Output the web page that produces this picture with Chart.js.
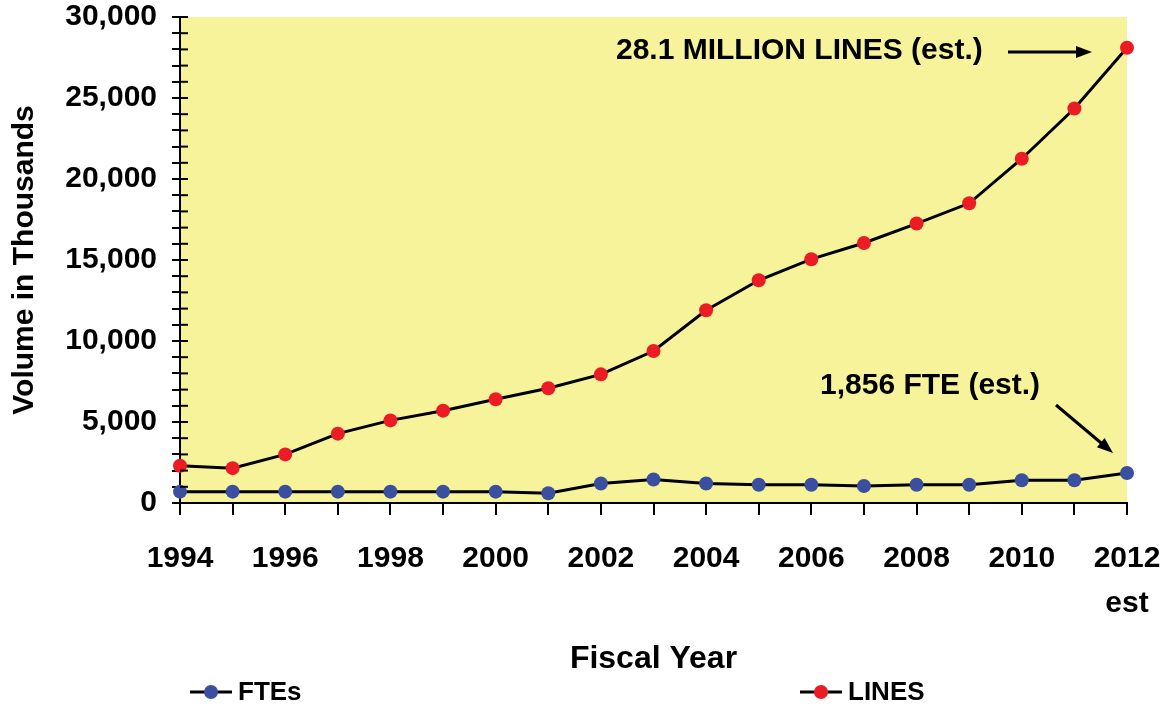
<!DOCTYPE html>
<html lang="en">
<head>
    <meta charset="UTF-8">
    <title>Volume in Thousands</title>
    <script src="https://cdn.jsdelivr.net/npm/chart.js"></script>
    <style>
        body { margin: 0; background: #fff; }
    </style>
</head>
<body>
    <div style="width: 1170px; height: 706px;">
        <canvas id="myChart"></canvas>
    </div>
<script>
    // data
    var v_years = ['1994','1995','1996','1997','1998','1999','2000','2001','2002','2003',
                   '2004','2005','2006','2007','2008','2009','2010','2011','2012'];
    var v_ftes  = [700, 700, 700, 700, 700, 700, 700, 600, 1200, 1450,
                   1200, 1130, 1130, 1050, 1130, 1130, 1400, 1400, 1856];
    var v_lines = [2300, 2150, 3000, 4280, 5100, 5700, 6400, 7080, 7940, 9380,
                   11900, 13750, 15050, 16050, 17250, 18500, 21250, 24350, 28100];
    var v_yMax = 30000;
    var v_yStep = 1000;
    var v_yLabelStep = 5000;

    var v_font = "'Liberation Sans', Arial, sans-serif";
    Chart.defaults.font.family = v_font;
    Chart.defaults.font.weight = 'bold';
    Chart.defaults.color = '#000';

    // yellow plot background + tick marks on the inner side of the y axis
    const bgPlugin = {
        id: 'bgPlugin',
        beforeDraw(chart) {
            const a = chart.chartArea, c = chart.ctx;
            c.save();
            c.fillStyle = '#F7F39B';
            c.fillRect(a.left, a.top, a.right - a.left, a.bottom - a.top);
            c.restore();
        },
        afterDraw(chart) {
            const c = chart.ctx, y = chart.scales.y, a = chart.chartArea;
            c.save();
            c.strokeStyle = '#000';
            c.lineWidth = 2;
            y.ticks.forEach(function(t) {
                var py = y.getPixelForValue(t.value);
                c.beginPath();
                c.moveTo(a.left, py);
                c.lineTo(a.left + 8, py);
                c.stroke();
            });
            c.restore();
        }
    };

    function f_arrow(c, x1, y1, x2, y2) {
        var ang = Math.atan2(y2 - y1, x2 - x1);
        c.beginPath();
        c.moveTo(x1, y1);
        c.lineTo(x2 - 12 * Math.cos(ang), y2 - 12 * Math.sin(ang));
        c.stroke();
        c.beginPath();
        c.moveTo(x2, y2);
        c.lineTo(x2 - 16 * Math.cos(ang) + 6 * Math.sin(ang), y2 - 16 * Math.sin(ang) - 6 * Math.cos(ang));
        c.lineTo(x2 - 16 * Math.cos(ang) - 6 * Math.sin(ang), y2 - 16 * Math.sin(ang) + 6 * Math.cos(ang));
        c.closePath();
        c.fill();
    }

    // callouts and the legend under the axis title
    const notePlugin = {
        id: 'notePlugin',
        afterDraw(chart) {
            const c = chart.ctx;
            c.save();
            c.fillStyle = '#000';
            c.strokeStyle = '#000';
            c.lineWidth = 3;
            c.font = 'bold 30px ' + v_font;
            c.textBaseline = 'middle';
            c.textAlign = 'left';
            c.fillText('28.1 MILLION LINES (est.)', 616, 51);
            f_arrow(c, 1008, 52, 1092, 52);
            c.fillText('1,856 FTE (est.)', 820, 386);
            f_arrow(c, 1056, 405, 1113, 453);

            // legend
            c.font = 'bold 26px ' + v_font;
            var v_items = [[190, 0], [800, 1]];
            v_items.forEach(function(it) {
                var ds = chart.data.datasets[it[1]];
                var x = it[0], yy = 692;
                c.strokeStyle = '#000';
                c.lineWidth = 3;
                c.beginPath();
                c.moveTo(x, yy);
                c.lineTo(x + 42, yy);
                c.stroke();
                c.fillStyle = ds.pointBackgroundColor;
                c.beginPath();
                c.arc(x + 21, yy, 7, 0, Math.PI * 2);
                c.fill();
                c.fillStyle = '#000';
                c.fillText(ds.label, x + 48, yy + 1);
            });
            c.restore();
        }
    };

    const ctx = document.getElementById('myChart').getContext('2d');
    const myChart = new Chart(ctx, {
        type: 'line',
        data: {
            labels: v_years,
            datasets: [{
                    label: 'FTEs',
                    data: v_ftes,
                    borderColor: '#000',
                    borderWidth: 3,
                    pointBackgroundColor: '#3A4FA0',
                    pointBorderColor: '#3A4FA0',
                    pointBorderWidth: 0,
                    pointRadius: 7,
                    tension: 0,
                    clip: false
                },
                {
                    label: 'LINES',
                    data: v_lines,
                    borderColor: '#000',
                    borderWidth: 3,
                    pointBackgroundColor: '#EC1C24',
                    pointBorderColor: '#EC1C24',
                    pointBorderWidth: 0,
                    pointRadius: 7,
                    tension: 0,
                    clip: false
                }
            ]
        },
        options: {
            responsive: true,
            maintainAspectRatio: false,
            animation: false,
            layout: { padding: { left: 0, right: 43, top: 17, bottom: 0 } },
            plugins: {
                legend: { display: false },
                tooltip: { enabled: false }
            },
            scales: {
                x: {
                    offset: false,
                    afterFit: function(s) {
                        s.height = 203;
                        s.paddingLeft = 0;
                        s.paddingRight = 0;
                    },
                    border: { display: true, color: '#000', width: 2 },
                    grid: { drawOnChartArea: false, color: '#000', lineWidth: 2, tickLength: 12 },
                    ticks: {
                        autoSkip: false,
                        maxRotation: 0,
                        padding: 21,
                        font: { size: 30, weight: 'bold', lineHeight: 1.5 },
                        callback: function(val, idx) {
                            if (idx % 2 != 0) return '';
                            if (idx == v_years.length - 1) return [v_years[idx], 'est'];
                            return v_years[idx];
                        }
                    },
                    title: {
                        display: true,
                        text: 'Fiscal Year',
                        font: { size: 32, weight: 'bold', lineHeight: 1.2 },
                        padding: { top: 0, bottom: 28 }
                    }
                },
                y: {
                    min: 0,
                    max: v_yMax,
                    afterFit: function(s) {
                        s.width = 180;
                        s.paddingTop = 0;
                        s.paddingBottom = 0;
                    },
                    border: { display: true, color: '#000', width: 2 },
                    grid: { drawOnChartArea: false, color: '#000', lineWidth: 2, tickLength: 8 },
                    ticks: {
                        stepSize: v_yStep,
                        autoSkip: false,
                        padding: 15,
                        font: { size: 30, weight: 'bold', lineHeight: 1 },
                        callback: function(val) {
                            return val % v_yLabelStep == 0 ? val.toLocaleString('en-US') : '';
                        }
                    },
                    title: {
                        display: true,
                        text: 'Volume in Thousands',
                        font: { size: 30, weight: 'bold', lineHeight: 1.2 },
                        padding: { top: 7, bottom: 0 }
                    }
                }
            }
        },
        plugins: [bgPlugin, notePlugin]
    });
</script>
</body>
</html>
